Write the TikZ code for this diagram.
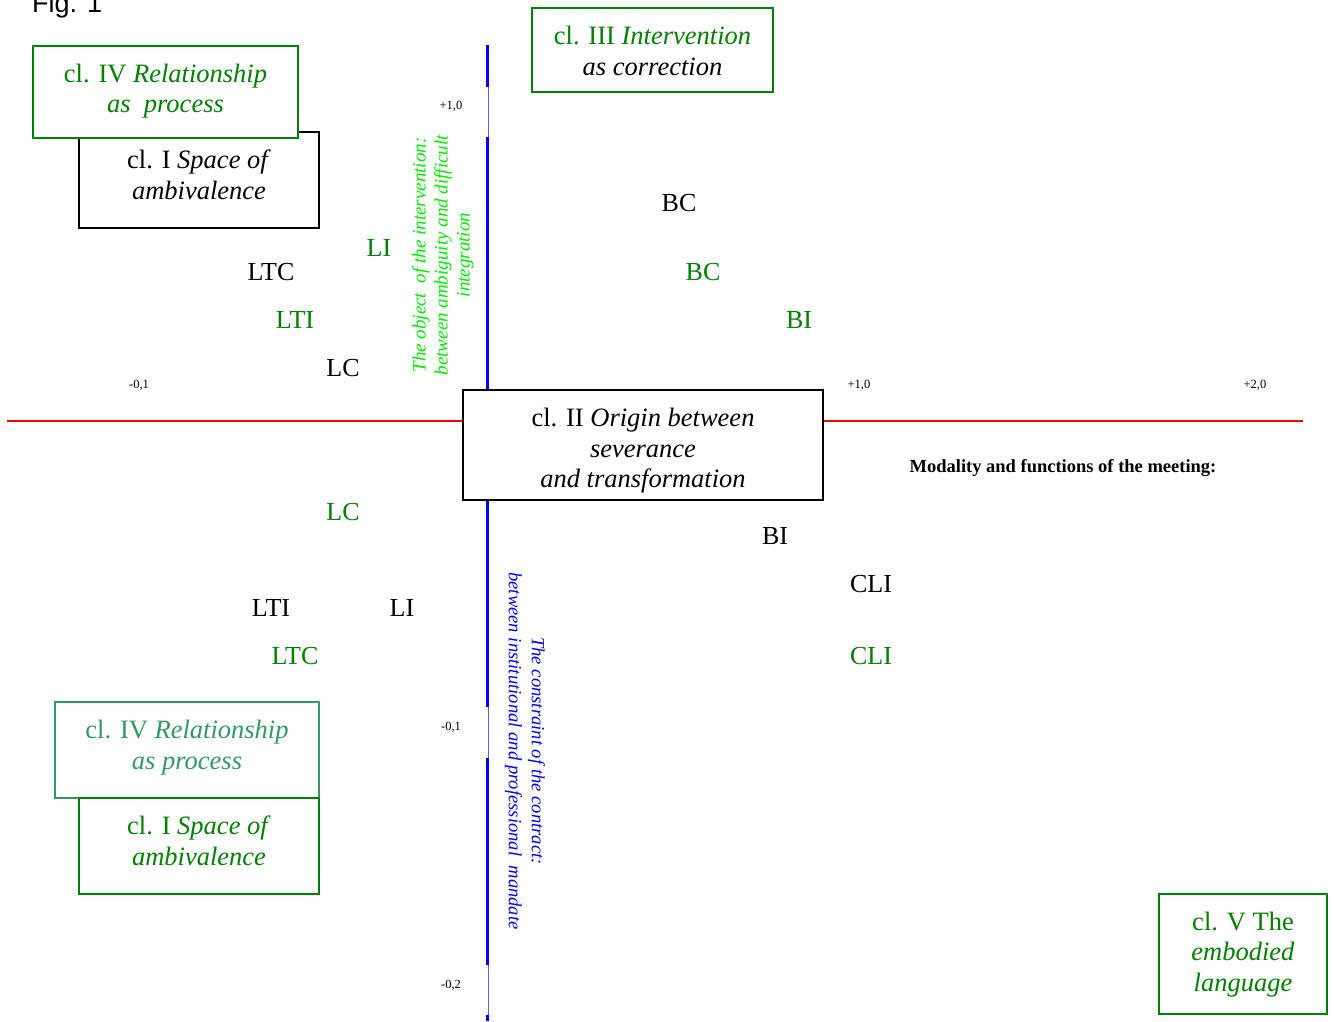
\documentclass[tikz,border=0pt]{standalone}
\usepackage{fontspec}
\setmainfont{Liberation Serif}
\newfontfamily\figfont{Liberation Sans}
\definecolor{dgreen}{RGB}{0,128,0}
\definecolor{lgreen}{RGB}{0,235,0}
\definecolor{sgreen}{RGB}{51,153,102}
\definecolor{ablue}{RGB}{0,0,255}
\definecolor{tblue}{RGB}{90,90,255}
\definecolor{ared}{RGB}{255,0,0}
\tikzset{
  boxtext/.style={font=\fontsize{26.5}{30.5}\selectfont, align=center, inner sep=0pt},
  clbox/.style={draw, line width=1.8pt, fill=white, inner sep=0pt},
  lab/.style={font=\fontsize{26}{30}\selectfont, inner sep=0pt},
  tick/.style={font=\fontsize{12.5}{14}\selectfont, inner sep=0pt},
  thickblue/.style={draw=ablue, line width=3pt},
  thinblue/.style={draw=tblue, line width=1pt},
}
\begin{document}
\begin{tikzpicture}[x=1pt,y=-1pt]
\useasboundingbox (0,0) rectangle (1334,1021);
% Fig label
\node[anchor=base west, inner sep=0pt, font=\figfont\fontsize{27}{30}\selectfont] (fig) at (32,12) {Fig. 1};
% axes
\coordinate (hl) at (7,421);
\coordinate (hr) at (1303,421);
\draw[draw=ared, line width=2.5pt] (hl) -- (hr);
\coordinate (vt) at (488,45);
\coordinate (vb) at (488,1021);
\draw[thinblue] (vt) -- (vb);
\draw[thickblue] (487,45) -- (487,87);
\draw[thickblue] (487,137) -- (487,395);
\draw[thickblue] (487,495) -- (487,707);
\draw[thickblue] (487,758) -- (487,965);
\draw[thickblue] (487,1015) -- (487,1021);
% tick labels
\node[tick] (t1) at (451,106) {+1,0};
\node[tick] (t2) at (139,385) {-0,1};
\node[tick] (t3) at (859,385) {+1,0};
\node[tick] (t4) at (1255,385) {+2,0};
\node[tick] (t5) at (451,727) {-0,1};
\node[tick] (t6) at (451,985) {-0,2};
% axis descriptions
\node[font=\fontsize{19}{22}\selectfont, text=lgreen, align=center, inner sep=0pt, rotate=90] (objtxt) at (443,255)
  {\textit{The object\ \ of the intervention:}\\\textit{between ambiguity and difficult}\\\textit{integration}};
\node[font=\fontsize{18.6}{23}\selectfont, text=ablue, align=center, inner sep=0pt, rotate=-90] (contxt) at (525,751)
  {\textit{The constraint of the contract:}\\\textit{between institutional and professional\ \ mandate}};
\node[font=\bfseries\fontsize{18.5}{22}\selectfont, inner sep=0pt] (mod) at (1063,468) {Modality and functions of the meeting:};
% boxes
\node[clbox, draw=black, minimum width=240pt, minimum height=96pt] (c1t) at (199,180) {};
\node[boxtext] (c1tt) at (199,175) {cl. I \textit{Space of}\\\textit{ambivalence}};
\node[clbox, draw=dgreen, minimum width=265pt, minimum height=92pt] (c4t) at (165.5,92) {};
\node[boxtext, text=dgreen] (c4tt) at (165.5,91) {cl. IV \textit{Relationship}\\\textit{as\ \ process}};
\node[clbox, draw=dgreen, minimum width=241pt, minimum height=84pt] (c3) at (652.5,50) {};
\node[boxtext, text=dgreen] (c3t) at (652.5,51) {cl. III \textit{Intervention}\\{\color{black}\textit{as correction}}};
\node[clbox, draw=black, minimum width=360pt, minimum height=110pt] (c2) at (643,445) {};
\node[boxtext] (c2t) at (643,451) {cl. II \textit{Origin between}\\\textit{severance}\\\textit{and transformation}};
\node[clbox, draw=sgreen, minimum width=264pt, minimum height=96pt] (c4b) at (187,750) {};
\node[boxtext, text=sgreen] (c4bt) at (187,747.5) {cl. IV \textit{Relationship}\\\textit{as process}};
\node[clbox, draw=dgreen, minimum width=240pt, minimum height=96pt] (c1b) at (199,846) {};
\node[boxtext, text=dgreen] (c1bt) at (199,841) {cl. I \textit{Space of}\\\textit{ambivalence}};
\node[clbox, draw=dgreen, minimum width=168pt, minimum height=120pt] (c5) at (1243,954) {};
\node[boxtext, text=dgreen] (c5t) at (1243,954.5) {cl. V The\\\textit{embodied}\\\textit{language}};
% labels upper half
\node[lab] (bc1) at (679,203) {BC};
\node[lab, text=dgreen] (bc2) at (703,272) {BC};
\node[lab, text=dgreen] (bi1) at (799,320) {BI};
\node[lab, text=dgreen] (li1) at (379,248) {LI};
\node[lab] (ltc1) at (271,272) {LTC};
\node[lab, text=dgreen] (lti1) at (295,320) {LTI};
\node[lab] (lc1) at (343,368) {LC};
% labels lower half
\node[lab, text=dgreen] (lc2) at (343,512) {LC};
\node[lab] (bi2) at (775,536) {BI};
\node[lab] (cli1) at (871,584) {CLI};
\node[lab] (lti2) at (271,608) {LTI};
\node[lab] (li2) at (402,608) {LI};
\node[lab, text=dgreen] (ltc2) at (295,656) {LTC};
\node[lab, text=dgreen] (cli2) at (871,656) {CLI};
\end{tikzpicture}
\end{document}
